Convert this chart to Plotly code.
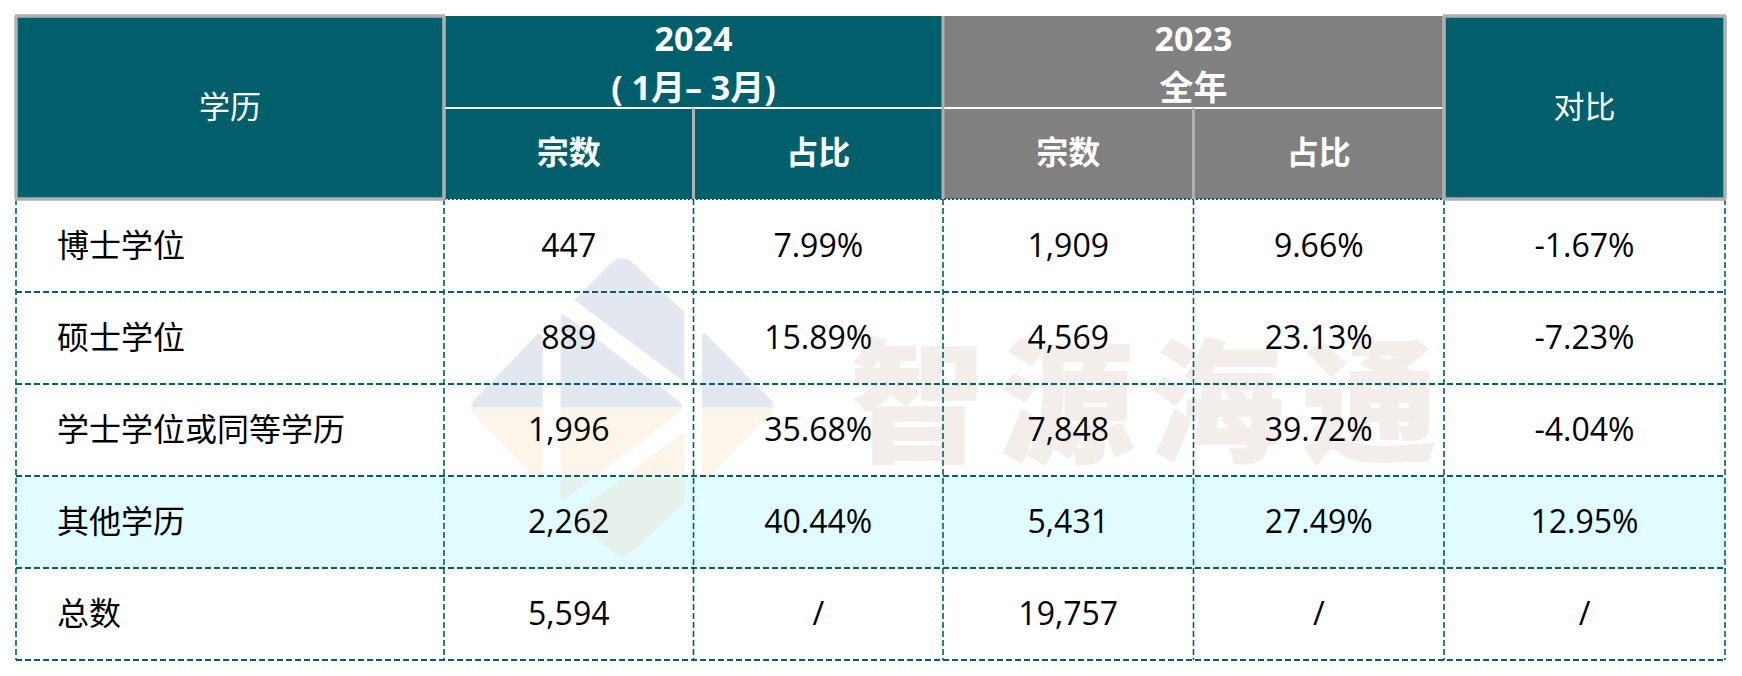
"""学历分布对比表：用 shapes 画单元格，Scatter 文本放内容。"""

import plotly.graph_objects as go

# 表格内容
ROW_LABELS = ["博士学位", "硕士学位", "学士学位或同等学历", "其他学历", "总数"]
COUNT_2024 = ["447", "889", "1,996", "2,262", "5,594"]
SHARE_2024 = ["7.99%", "15.89%", "35.68%", "40.44%", "/"]
COUNT_2023 = ["1,909", "4,569", "7,848", "5,431", "19,757"]
SHARE_2023 = ["9.66%", "23.13%", "39.72%", "27.49%", "/"]
DIFF = ["-1.67%", "-7.23%", "-4.04%", "12.95%", "/"]
HEAD_LEFT = "学历"
HEAD_RIGHT = "对比"
HEAD_2024 = ["2024", "( 1月– 3月)"]
HEAD_2023 = ["2023", "全年"]
SUB_HEADS = ["宗数", "占比"]
WATERMARK = ["智", "源", "海", "通"]

# 版式（像素，坐标轴与页面 1:1）
W, H = 1742, 676
COL_X = [16, 444, 693.5, 943, 1193.5, 1444, 1725]
HEAD_Y = [16, 108, 199]
ROW_Y = [199, 292, 384, 476, 568, 660]
TEXT_DY = 3
WATERMARK_X = [918, 1067, 1216, 1370]
WATERMARK_Y = 418

TEAL = "#005F6B"
GREY = "#808080"
BORDER = "#B0B0B0"
CYAN = "#E1FCFF"
MARK = "#F3EEE9"
FONT = "Open Sans, Noto Sans CJK SC, sans-serif"

# 背景 logo，分上下两半
LOGO_BLUE = [
    "M 542.7 335 L 538 333.5 L 474 400 L 471 407 L 542.7 407 Z",
    "M 560.7 316 Q 561 313 565 315 L 680 402 Q 683 405 681.7 407 L 560.7 407 Z",
    "M 574.3 300 L 611 263 Q 622 253 633 263 L 684.3 312 L 684.3 382 Z",
    "M 702 335 Q 704 332 707 335 L 771 400 Q 773 403 773.3 407 L 702 407 Z",
]
LOGO_ORANGE = [
    "M 542.7 479 L 538 481 L 474 414 L 471 407 L 542.7 407 Z",
    "M 560.7 498 Q 561 501 565 499 L 680 412 Q 683 409 681.7 407 L 560.7 407 Z",
    "M 574.3 514 L 611 551 Q 622 561 633 551 L 684.3 502 L 684.3 432 Z",
    "M 702 479 Q 704 482 707 479 L 771 414 Q 773 411 773.3 407 L 702 407 Z",
]


def rect(x0, y0, x1, y1, color):
    return dict(type="rect", x0=x0, y0=y0, x1=x1, y1=y1, fillcolor=color,
                line_width=0, layer="below")


def line(x0, y0, x1, y1, color, width, dash="solid"):
    return dict(type="line", x0=x0, y0=y0, x1=x1, y1=y1, layer="above",
                line=dict(color=color, width=width, dash=dash))


shapes = [
    rect(COL_X[0], HEAD_Y[0], COL_X[3], HEAD_Y[2], TEAL),
    rect(COL_X[3], HEAD_Y[0], COL_X[5], HEAD_Y[2], GREY),
    rect(COL_X[5], HEAD_Y[0], COL_X[6], HEAD_Y[2], TEAL),
    rect(COL_X[0], ROW_Y[3], COL_X[6], ROW_Y[4], CYAN),
]
shapes += [dict(type="path", path=p, fillcolor="rgba(115,140,180,0.2)", line_width=0, layer="below")
           for p in LOGO_BLUE]
shapes += [dict(type="path", path=p, fillcolor="rgba(245,200,150,0.2)", line_width=0, layer="below")
           for p in LOGO_ORANGE]

# 表体虚线
for y in ROW_Y[1:]:
    shapes.append(line(COL_X[0], y, COL_X[6], y, TEAL, 2, "6px,3px"))
for x in COL_X:
    shapes.append(line(x, ROW_Y[0], x, ROW_Y[-1], TEAL, 1.6, "6px,3px"))
shapes.append(line(COL_X[1], HEAD_Y[2], COL_X[5], HEAD_Y[2], TEAL, 2, "2px,2px"))

# 表头边框
shapes.append(line(COL_X[1], HEAD_Y[1], COL_X[5], HEAD_Y[1], "#FFFFFF", 2))
for x in (COL_X[2], COL_X[4]):
    shapes.append(line(x, HEAD_Y[1], x, HEAD_Y[2], BORDER, 3))
shapes.append(line(COL_X[3], HEAD_Y[0], COL_X[3], HEAD_Y[2], BORDER, 3))
for x0, x1 in ((COL_X[0], COL_X[1]), (COL_X[5], COL_X[6])):
    for y in (HEAD_Y[0], HEAD_Y[2]):
        shapes.append(line(x0 - 1, y, x1 + 1, y, BORDER, 3.5))
    for x in (x0, x1):
        shapes.append(line(x, HEAD_Y[0], x, HEAD_Y[2], BORDER, 3.5))


def centers(edges):
    return [(a + b) / 2 for a, b in zip(edges, edges[1:])]


col_cx = centers(COL_X)
row_cy = [y + TEXT_DY for y in centers(ROW_Y)]

fig = go.Figure()

# 水印放最底层的 trace，网格线 shape 在它上面；shadow 用来加粗字形
fig.add_trace(go.Scatter(
    x=WATERMARK_X, y=[WATERMARK_Y] * len(WATERMARK), text=WATERMARK, mode="text",
    textfont=dict(
        family="Noto Sans CJK SC", size=134, color=MARK, weight=900,
        shadow=f"1px 0 0 {MARK}, -1px 0 0 {MARK}",
    ),
))

for col, values in zip(col_cx[1:], [COUNT_2024, SHARE_2024, COUNT_2023, SHARE_2023, DIFF]):
    fig.add_trace(go.Scatter(
        x=[col] * len(values), y=row_cy, text=values, mode="text",
        textfont=dict(family=FONT, size=32, color="#000000"),
    ))
fig.add_trace(go.Scatter(
    x=[57] * len(ROW_LABELS), y=row_cy, text=ROW_LABELS, mode="text",
    textposition="middle right",
    textfont=dict(family=FONT, size=32, color="#000000"),
))

# 表头文字
fig.add_trace(go.Scatter(
    x=[col_cx[0], col_cx[5]], y=[110, 110], text=[HEAD_LEFT, HEAD_RIGHT], mode="text",
    textfont=dict(family=FONT, size=31, color="#FFFFFF"),
))
for cx, lines in ((COL_X[2], HEAD_2024), (COL_X[4], HEAD_2023)):
    fig.add_trace(go.Scatter(
        x=[cx, cx], y=[42, 91], text=lines, mode="text",
        textfont=dict(family=FONT, size=34, color="#FFFFFF", weight="bold"),
    ))
for cx, label in zip(col_cx[1:5], SUB_HEADS * 2):
    fig.add_trace(go.Scatter(
        x=[cx], y=[156], text=[label], mode="text",
        textfont=dict(family=FONT, size=32, color="#FFFFFF", weight="bold"),
    ))

fig.update_layout(
    width=W,
    height=H,
    margin=dict(l=0, r=0, t=0, b=0),
    paper_bgcolor="#FFFFFF",
    plot_bgcolor="#FFFFFF",
    showlegend=False,
    shapes=shapes,
    xaxis=dict(range=[0, W], visible=False, fixedrange=True),
    yaxis=dict(range=[H, 0], visible=False, fixedrange=True),
)
# 页面默认有 body 边距，去掉后坐标才和截图对齐
fig.write_html(
    "out.html",
    config={"displayModeBar": False},
    post_script="document.body.style.margin='0';document.body.style.overflow='hidden';",
)
